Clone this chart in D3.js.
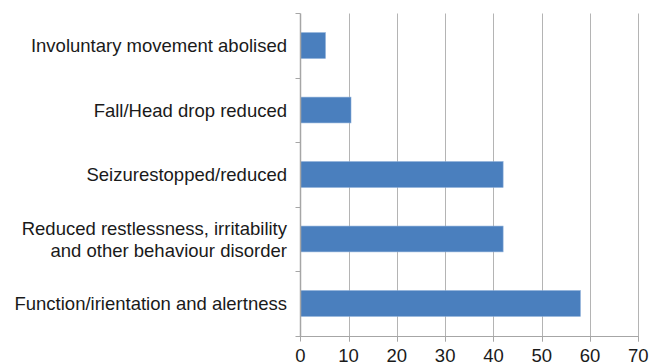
<!DOCTYPE html>
<html>
<head>
<meta charset="utf-8">
<script src="https://cdn.jsdelivr.net/npm/d3@7"></script>
<style>
  html, body { margin: 0; padding: 0; background: #fff; }
  svg { display: block; }
  text { font-family: "Liberation Sans", Arial, sans-serif; font-size: 18.5px; fill: #1a1a1a; }
</style>
</head>
<body>
<svg id="chart" width="661" height="364"></svg>
<script>
// Outcome categories, top to bottom
const categories = [
  ["Involuntary movement abolised"],
  ["Fall/Head drop reduced"],
  ["Seizurestopped/reduced"],
  ["Reduced restlessness, irritability", "and other behaviour disorder"],
  ["Function/irientation and alertness"]
];
const values = [5.2, 10.5, 42, 42, 58];
const xTicks = [0, 10, 20, 30, 40, 50, 60, 70];

(function () {
  const svg = d3.select("#chart");
  const plotLeft = 300.3, plotRight = 638.3, plotTop = 13.3, plotBottom = 335.7;

  const keys = categories.map(c => c.join(" "));
  const x = d3.scaleLinear().domain([0, 70]).range([plotLeft, plotRight]);
  const y = d3.scaleBand().domain(keys).range([plotTop, plotBottom])
    .paddingInner(0.6).paddingOuter(0.3);

  const crisp = v => Math.round(v) + 0.5;
  const gridColor = "#b4b4b4";
  const axisColor = "#a6a6a6";

  // vertical gridlines
  svg.append("g").selectAll("line").data(xTicks.slice(1)).join("line")
    .attr("x1", d => crisp(x(d))).attr("x2", d => crisp(x(d)))
    .attr("y1", crisp(plotTop)).attr("y2", crisp(plotBottom) + 5)
    .attr("stroke", gridColor).attr("stroke-width", 1);

  // bars
  svg.append("g").selectAll("rect").data(values).join("rect")
    .attr("x", x(0))
    .attr("y", (d, i) => y(keys[i]))
    .attr("width", d => x(d) - x(0))
    .attr("height", y.bandwidth())
    .attr("fill", "#4a7fbe")
    .attr("stroke", "#86aad6").attr("stroke-width", 0.6);

  // x axis line with ticks
  const xa = svg.append("g");
  xa.append("line")
    .attr("x1", crisp(x(0)) - 5).attr("x2", crisp(x(70)))
    .attr("y1", crisp(plotBottom)).attr("y2", crisp(plotBottom))
    .attr("stroke", axisColor);
  xa.selectAll("line.tick").data(xTicks).join("line").attr("class", "tick")
    .attr("x1", d => crisp(x(d))).attr("x2", d => crisp(x(d)))
    .attr("y1", crisp(plotBottom)).attr("y2", crisp(plotBottom) + 5)
    .attr("stroke", axisColor);
  xa.selectAll("text").data(xTicks).join("text")
    .attr("x", d => x(d)).attr("y", 361.5)
    .attr("text-anchor", "middle")
    .text(d => d);

  // y axis line with ticks at category boundaries
  const ya = svg.append("g");
  ya.append("line")
    .attr("x1", crisp(x(0))).attr("x2", crisp(x(0)))
    .attr("y1", crisp(plotTop)).attr("y2", crisp(plotBottom))
    .attr("stroke", axisColor).attr("stroke-width", 1.5);
  const bounds = keys.map(k => y(k) - y.step() * y.paddingInner() / 2);
  ya.selectAll("line.tick").data(bounds).join("line").attr("class", "tick")
    .attr("x1", crisp(x(0)) - 5).attr("x2", crisp(x(0)))
    .attr("y1", d => crisp(d)).attr("y2", d => crisp(d))
    .attr("stroke", axisColor);

  // category labels
  const lineH = 22;
  const capHalf = 6.6;
  const labels = ya.selectAll("text.cat").data(categories).join("text").attr("class", "cat")
    .attr("text-anchor", "end");
  labels.each(function (lines, i) {
    const cy = y(keys[i]) + y.bandwidth() / 2;
    const y0 = cy + capHalf - (lines.length - 1) * lineH / 2;
    d3.select(this).selectAll("tspan").data(lines).join("tspan")
      .attr("x", 287)
      .attr("y", (d, j) => y0 + j * lineH)
      .text(d => d);
  });
})();
</script>
</body>
</html>
